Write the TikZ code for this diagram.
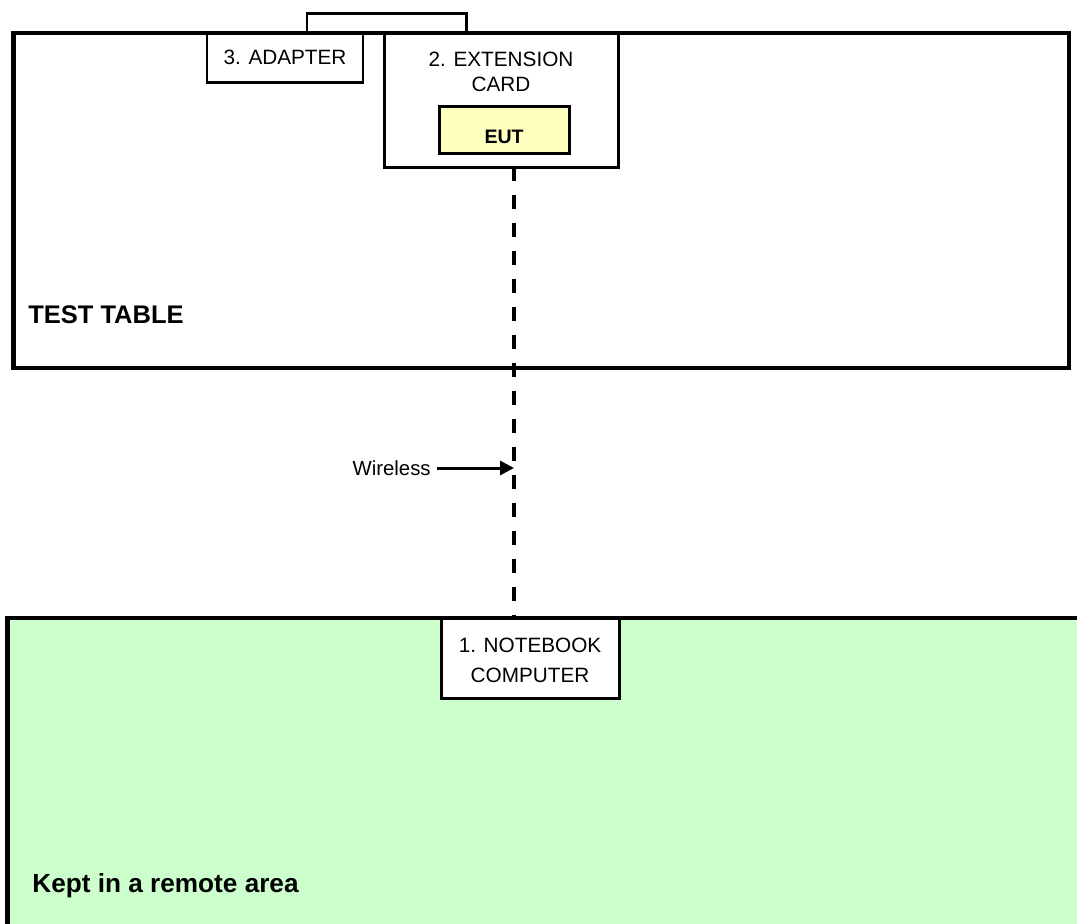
\documentclass[tikz,border=0pt]{standalone}
\usepackage{fontspec}
\setmainfont{Liberation Sans}
\usetikzlibrary{arrows.meta}
\definecolor{eutyellow}{HTML}{FFFFC0}
\definecolor{remotegreen}{HTML}{CCFFCC}

\begin{document}
\begin{tikzpicture}[
    area/.style={line width=2.8pt},
    unit/.style={draw,line width=1.7pt,fill=white,inner sep=0pt,font=\fontsize{11.8}{14.2}\selectfont},
    wirelink/.style={line width=2pt,dash pattern=on 0.28cm off 0.28cm},
    bigtext/.style={font=\fontsize{14.5}{17}\selectfont\bfseries,inner sep=0pt,anchor=base west}]
    \useasboundingbox (0,0) rectangle (21.54,-18.46);
    % Test table, remote area
    \draw[area] (0.27,-0.66) rectangle (21.38,-7.36);
    \node[bigtext] (table) at (0.56,-6.46) {TEST TABLE};
    \draw[area,fill=remotegreen] (0.15,-12.36) rectangle (22,-19);
    \node[bigtext,font=\fontsize{14.9}{17}\selectfont\bfseries] (remote) at (0.64,-17.84) {Kept in a remote area};
    % Units
    \draw[line width=1.7pt] (6.14,-0.66) |- (9.32,-0.26) -- (9.32,-0.66);
    \node[unit,minimum width=3.12cm,minimum height=0.98cm] (adapter) at (5.7,-1.15) {3. ADAPTER};
    \coordinate (air) at (10.28,-9.36);
    \draw[wirelink] (10.28,-3.34) -- (10.28,-12.36);
    \node[unit,minimum width=4.68cm,minimum height=2.68cm] (card) at (10.02,-2.0) {};
    \node[inner sep=0pt,anchor=north,align=center,font=\fontsize{11.8}{14.2}\selectfont] (cardtxt) at (10.02,-1.04) {2. EXTENSION\\CARD};
    \node[unit,fill=eutyellow,font=\fontsize{11.1}{13}\selectfont\bfseries,text height=0.54cm,text depth=0pt,
          minimum width=2.6cm,minimum height=0.94cm] (eut) at (10.08,-2.59) {EUT};
    \node[unit,minimum width=3.56cm,minimum height=1.6cm] (nb) at (10.6,-13.16) {};
    \begin{scope}
        \clip (8.9,-12.4) rectangle (12.3,-13.64);
        \node[inner sep=0pt,anchor=north,align=center,font=\fontsize{11.8}{17}\selectfont] (nbtxt) at (10.6,-12.76) {1. NOTEBOOK\\COMPUTER};
    \end{scope}
    % Wireless link
    \node[anchor=east,inner sep=0.12cm,font=\fontsize{11.6}{14}\selectfont] (wl) at (8.74,-9.36) {Wireless};
    \draw[line width=1.7pt,-{Triangle[length=0.28cm,width=0.28cm]}] (wl.east) -- (air);
\end{tikzpicture}
\end{document}
